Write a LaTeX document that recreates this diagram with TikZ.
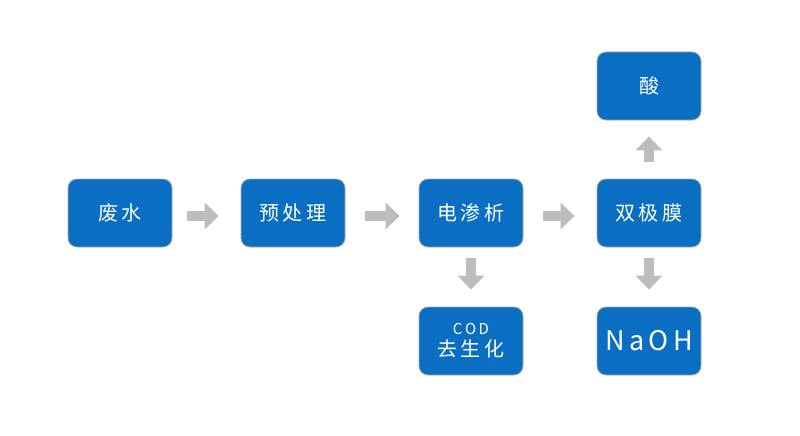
\documentclass[tikz,border=0pt]{standalone}
\usepackage{fontspec}
\setmainfont{Noto Sans CJK SC}
\usetikzlibrary{arrows.meta}
\definecolor{bx}{HTML}{0A6FC2}
\definecolor{ar}{HTML}{BDBDBB}
\begin{document}
\begin{tikzpicture}[x=1pt,y=-1pt,
  box/.style={draw=gray!70,line width=0.8pt,fill=bx,rounded corners=9pt,minimum width=104pt,minimum height=68pt,text=white,font=\fontsize{20}{24}\selectfont,align=center,inner sep=0pt},
  ga/.style={draw=ar,line width=10pt,-{Triangle[length=14pt,width=26pt]},shorten >=0pt}]
\useasboundingbox (0,0) rectangle (800,436);
\node[box] (a) at (120,213) {废\,水};
\node[box] (b) at (293,213) {预\,处\,理};
\node[box] (c) at (471,213) {电\,渗\,析};
\node[box] (d) at (649,213) {双\,极\,膜};
\node[box] (e) at (649,86) {酸};
\node[box,font=\fontsize{20}{22}\selectfont] (f) at (471,341) {{\fontsize{15}{17}\selectfont C\,O\,D}\\去\,生\,化};
\node[box,font=\fontsize{27}{30}\selectfont] (g) at (649,341) {N\,a\,O\,H};
\draw[ga] ([xshift=15pt]a.east|-0,216) -- ([xshift=-22pt]b.west|-0,216);
\draw[ga] ([xshift=20pt]b.east|-0,216) -- ([xshift=-19pt]c.west|-0,216);
\draw[ga] ([xshift=20pt]c.east|-0,216) -- ([xshift=-22pt]d.west|-0,216);
\draw[ga] ([yshift=-11pt]c.south) -- ([yshift=17pt]f.north);
\draw[ga] ([yshift=-11pt]d.south) -- ([yshift=17pt]g.north);
\draw[ga] ([yshift=17pt]d.north) -- ([yshift=-16pt]e.south);
\end{tikzpicture}
\end{document}
